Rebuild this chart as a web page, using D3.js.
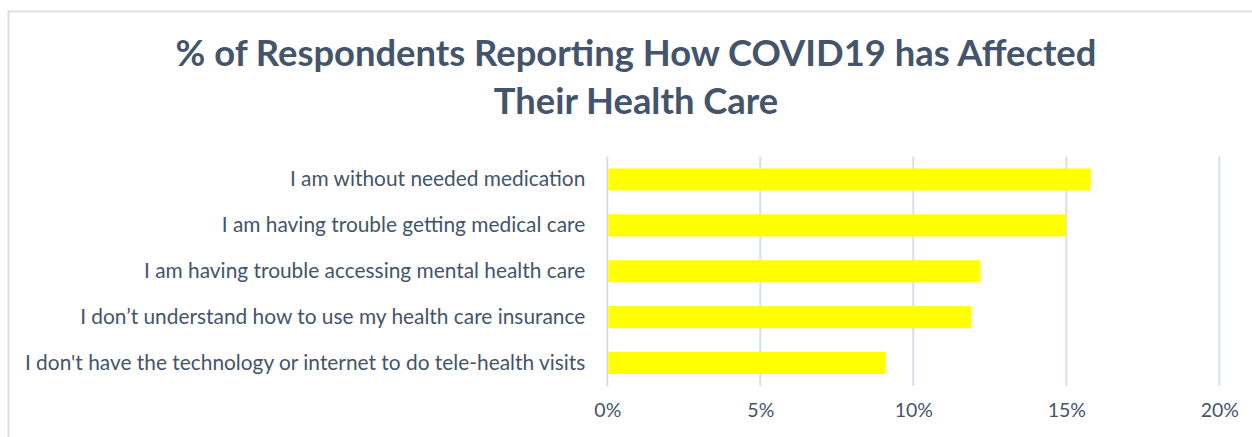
<!DOCTYPE html>
<html>
<head>
<meta charset="utf-8">
<script src="https://cdn.jsdelivr.net/npm/d3@7"></script>
<style>
  html, body { margin: 0; padding: 0; background: #ffffff; }
  svg { display: block; }
</style>
</head>
<body>
<svg id="chart" width="1252" height="437"></svg>
<script>
// Survey responses: share of respondents per health-care impact
const categories = [
  "I am without needed medication",
  "I am having trouble getting medical care",
  "I am having trouble accessing mental health care",
  "I don\u2019t understand how to use my health care insurance",
  "I don't have the technology or internet to do tele-health visits"
];
const values = [15.8, 15.0, 12.2, 11.9, 9.1];
const tickValues = [0, 5, 10, 15, 20];
const titleLines = [
  "% of Respondents Reporting How COVID19 has Affected",
  "Their Health Care"
];

const W = 1252, H = 437;
const textColor = "#44546a";
const gridColor = "#d9dee7";
const barColor = "#ffff00";
const font = "Lato, 'Open Sans', sans-serif";

const svg = d3.select("#chart");

// Chart frame (top and left edges visible)
svg.append("path")
  .attr("d", `M8.5,${H} V11.5 H${W}`)
  .attr("fill", "none")
  .attr("stroke", "#dadfe7")
  .attr("stroke-width", 2);

const plot = { left: 607.3, right: 1219.3, top: 156.5, bottom: 386 };

const x = d3.scaleLinear().domain([0, 20]).range([plot.left, plot.right]);
const y = d3.scaleBand().domain(categories).range([plot.top, plot.bottom]).paddingInner(0.52).paddingOuter(0.26);

// Title, sized so the first line spans the chart's title width
const title = svg.append("g").attr("fill", textColor)
  .attr("font-family", font).attr("font-weight", 700);
const t1 = title.append("text").attr("x", 636).attr("y", 66)
  .attr("text-anchor", "middle").attr("font-size", 30).text(titleLines[0]);
const fitTitle = 30 * 921 / t1.node().getComputedTextLength();
t1.attr("font-size", fitTitle);
title.append("text").attr("x", 636).attr("y", 113.5)
  .attr("text-anchor", "middle").attr("font-size", fitTitle).text(titleLines[1]);

// Vertical gridlines
svg.append("g").selectAll("line").data(tickValues).join("line")
  .attr("x1", d => x(d)).attr("x2", d => x(d))
  .attr("y1", plot.top).attr("y2", plot.bottom)
  .attr("stroke", gridColor).attr("stroke-width", 2);

// Bars
svg.append("g").selectAll("rect").data(values).join("rect")
  .attr("x", x(0) + 1)
  .attr("y", (d, i) => y(categories[i]))
  .attr("width", d => x(d) - x(0) - 1)
  .attr("height", y.bandwidth())
  .attr("fill", barColor);

// X axis tick labels (no domain line or ticks)
const xAxis = d3.axisBottom(x).tickValues(tickValues)
  .tickFormat(d => d + "%").tickSize(0).tickPadding(0);
const gx = svg.append("g").attr("transform", `translate(0,${plot.bottom + 24})`).call(xAxis);
gx.select(".domain").remove();
gx.selectAll("text")
  .attr("fill", textColor)
  .attr("font-family", font)
  .attr("font-size", 19.5)
  .attr("dy", "0.35em")
  .attr("y", 0);

// Category labels, right-aligned against the plot, scaled to fit the left margin
const yAxis = d3.axisLeft(y).tickSize(0).tickPadding(22);
const gy = svg.append("g").attr("transform", `translate(${plot.left},0)`).call(yAxis);
gy.select(".domain").remove();
const labels = gy.selectAll("text")
  .attr("fill", textColor)
  .attr("font-family", font)
  .attr("font-size", 18);
const longest = d3.max(labels.nodes(), n => n.getComputedTextLength());
labels.attr("font-size", 18 * 561 / longest);
</script>
</body>
</html>
